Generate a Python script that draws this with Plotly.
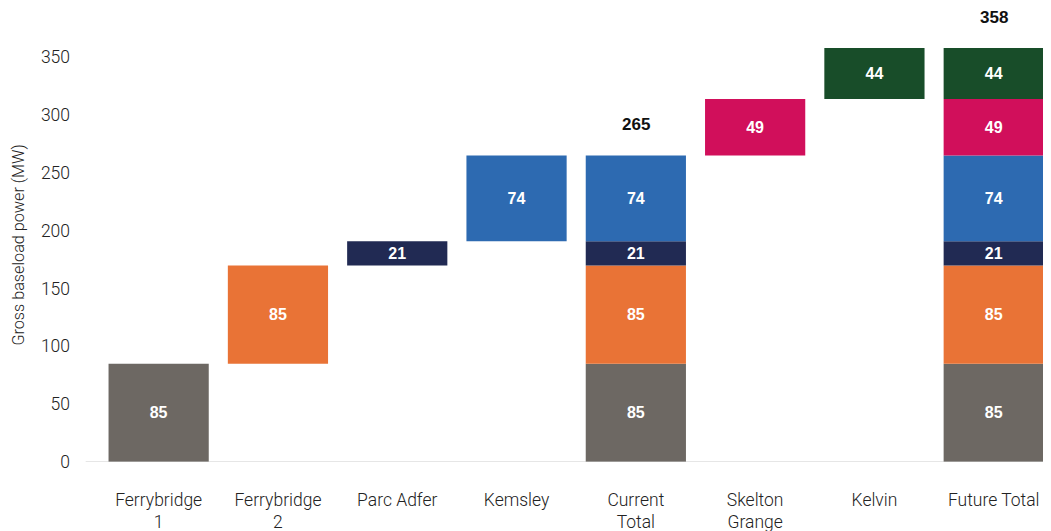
import plotly.graph_objects as go

categories = ["Ferrybridge<br>1", "Ferrybridge<br>2", "Parc Adfer", "Kemsley",
              "Current<br>Total", "Skelton<br>Grange", "Kelvin", "Future Total"]

# components: name, value, colour, categories in which it appears
comp_names = ["Ferrybridge 1", "Ferrybridge 2", "Parc Adfer", "Kemsley", "Skelton Grange", "Kelvin"]
comp_values = [85, 85, 21, 74, 49, 44]
comp_colors = ["#6D6863", "#E97336", "#212A53", "#2D6AB1", "#D10F5B", "#184D29"]
comp_own_cat = [0, 1, 2, 3, 5, 6]
current_total_idx = 4
future_total_idx = 7
current_members = [0, 1, 2, 3]
future_members = [0, 1, 2, 3, 4, 5]

totals_cats = [4, 7]
totals_values = [265, 358]

y_title = "Gross baseload power (MW)"

fig = go.Figure()
for i, (name, val, col) in enumerate(zip(comp_names, comp_values, comp_colors)):
    base = sum(comp_values[:i])
    xs = [categories[comp_own_cat[i]]]
    if i in current_members:
        xs.append(categories[current_total_idx])
    if i in future_members:
        xs.append(categories[future_total_idx])
    fig.add_trace(go.Bar(
        x=xs, y=[val] * len(xs), base=[base] * len(xs),
        marker=dict(color=col, line=dict(width=0)),
        width=0.84, name=name,
        text=["<b>%d</b>" % val] * len(xs), textposition="inside", insidetextanchor="middle",
        textfont=dict(color="#FFFFFF", size=16, family="Arial, sans-serif"),
        textangle=0, showlegend=False, hoverinfo="skip",
    ))

for c, v in zip(totals_cats, totals_values):
    fig.add_annotation(x=categories[c], y=v, text="<b>%d</b>" % v, showarrow=False,
                       yshift=31, font=dict(size=17, color="#111111", family="Arial, sans-serif"))

fig.add_annotation(xref="paper", yref="paper", x=-0.085, y=0.48, text=y_title,
                   textangle=-90, showarrow=False, xanchor="center", yanchor="middle",
                   font=dict(size=16.2, color="#222222", family="Roboto, Arial, sans-serif", weight=300))

fig.add_shape(type="line", xref="paper", yref="y", x0=-0.014, x1=1, y0=0, y1=0,
              line=dict(color="#CCCCCC", width=1))

fig.update_layout(
    width=1043, height=523,
    margin=dict(l=91, r=0, t=3, b=69),
    barmode="overlay",
    plot_bgcolor="white", paper_bgcolor="white",
    font=dict(family="Roboto, Arial, sans-serif", color="#222222"),
)
fig.update_xaxes(categoryorder="array", categoryarray=categories, automargin=False,
                 range=[-0.5, 7.48], showgrid=False, showline=False, zeroline=False,
                 ticks="", tickfont=dict(size=17.5, color="#222222", weight=300), ticklabelstandoff=25)
fig.update_yaxes(range=[0, 390], tickvals=[0, 50, 100, 150, 200, 250, 300, 350], automargin=False,
                 showgrid=False, zeroline=False, showline=False, ticks="",
                 tickfont=dict(size=17.5, color="#222222", weight=300), ticklabelstandoff=28)

fig.write_html("out.html")
